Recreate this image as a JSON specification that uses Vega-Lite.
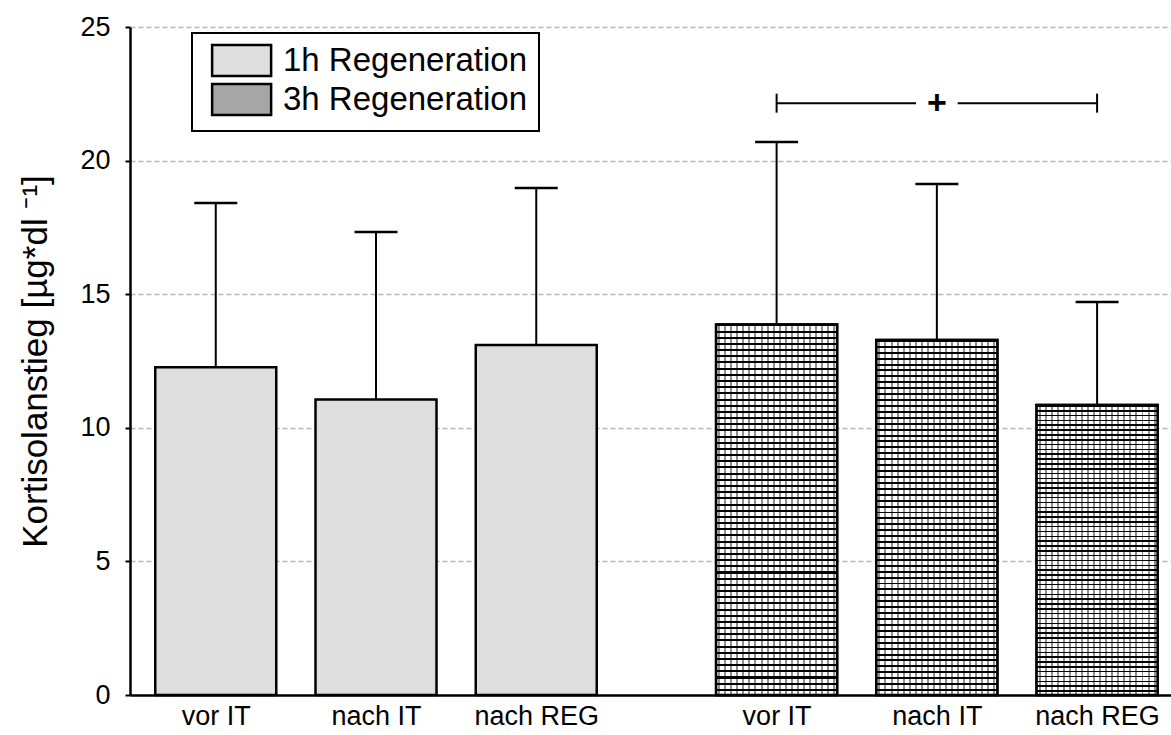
{
  "$schema": "https://vega.github.io/schema/vega-lite/v6.json",
  "width": 1041,
  "height": 668,
  "autosize": {"type": "none"},
  "padding": {"left": 130, "top": 27, "right": 0, "bottom": 40},
  "background": "white",
  "config": {
    "view": {"stroke": null},
    "font": "Liberation Sans",
    "axis": {"labelColor": "#000", "titleColor": "#000", "domainColor": "#000", "tickColor": "#000"},
    "axisX": {
      "labelFontSize": 27,
      "labelPadding": 8,
      "labelOverlap": false,
      "ticks": false,
      "tickSize": 0,
      "grid": false,
      "domainWidth": 2.5
    },
    "axisY": {
      "titleFontSize": 35,
      "titleFontWeight": "normal",
      "titlePadding": 26,
      "labelFontSize": 27,
      "labelPadding": 15,
      "tickSize": 5,
      "tickWidth": 2,
      "domainWidth": 2.5,
      "grid": true,
      "gridColor": "#b8b8b8",
      "gridDash": [5, 3],
      "gridWidth": 1.5
    },
    "legend": {
      "orient": "none",
      "legendX": 62,
      "legendY": 6,
      "padding": 11,
      "strokeColor": "#000",
      "strokeWidth": 2,
      "fillColor": "#fff",
      "symbolType": "M-0.5,-1.05H3.5V1.05H-0.5Z",
      "symbolSize": 870,
      "symbolStrokeColor": "#000",
      "symbolStrokeWidth": 2.5,
      "symbolOpacity": 1,
      "labelFontSize": 33,
      "labelColor": "#000",
      "labelOffset": 47,
      "labelLimit": 0,
      "rowPadding": -2
    }
  },
  "datasets": {
    "bars": [
      {"grp": "1h Regeneration", "cond": "vor IT", "pos": 1, "mean": 12.27, "upper": 18.41},
      {"grp": "1h Regeneration", "cond": "nach IT", "pos": 2, "mean": 11.06, "upper": 17.33},
      {"grp": "1h Regeneration", "cond": "nach REG", "pos": 3, "mean": 13.1, "upper": 18.97},
      {"grp": "3h Regeneration", "cond": "vor IT", "pos": 4.5, "mean": 13.87, "upper": 20.7},
      {"grp": "3h Regeneration", "cond": "nach IT", "pos": 5.5, "mean": 13.29, "upper": 19.12},
      {"grp": "3h Regeneration", "cond": "nach REG", "pos": 6.5, "mean": 10.85, "upper": 14.71}
    ],
    "bracketSeg": [
      {"x": 4.5, "x2": 5.37, "y": 22.15},
      {"x": 5.63, "x2": 6.5, "y": 22.15}
    ],
    "bracketEnd": [
      {"x": 4.5, "y": 22.15},
      {"x": 6.5, "y": 22.15}
    ],
    "sig": [
      {"x": 5.5, "y": 22.15, "label": "+"}
    ]
  },
  "layer": [
    {
      "data": {"name": "bars"},
      "mark": {"type": "bar", "size": 121, "stroke": "#000", "strokeWidth": 2.5},
      "encoding": {
        "x": {
          "field": "pos", "type": "quantitative", "title": null,
          "scale": {"domain": [0.496, 6.93], "nice": false, "zero": false},
          "axis": {
            "values": [1, 2, 3, 4.5, 5.5, 6.5],
            "labelExpr": "{'1':'vor IT','2':'nach IT','3':'nach REG','4.5':'vor IT','5.5':'nach IT','6.5':'nach REG'}[datum.value]"
          }
        },
        "y": {
          "field": "mean", "type": "quantitative", "title": "Kortisolanstieg [µg*dl ⁻¹]",
          "scale": {"domain": [0, 25], "nice": false},
          "axis": {"values": [0, 5, 10, 15, 20, 25]}
        },
        "fill": {
          "field": "grp", "type": "nominal",
          "scale": {"domain": ["1h Regeneration", "3h Regeneration"], "range": ["#dedede", "#a6a6a6"]},
          "legend": {"title": null}
        }
      }
    },
    {
      "data": {"name": "bars"},
      "transform": [{"filter": "datum.grp == '3h Regeneration'"}],
      "mark": {
        "type": "bar", "size": 121, "strokeWidth": 0,
        "fill": {
          "gradient": "linear", "x1": 0, "y1": 0, "x2": 1, "y2": 0,
          "stops": [
            {"offset": 0.017, "color": "#fff"}, {"offset": 0.017, "color": "#8f8f8f"}, {"offset": 0.0335, "color": "#8f8f8f"}, {"offset": 0.0335, "color": "#fff"},
            {"offset": 0.067, "color": "#fff"}, {"offset": 0.067, "color": "#8f8f8f"}, {"offset": 0.0835, "color": "#8f8f8f"}, {"offset": 0.0835, "color": "#fff"},
            {"offset": 0.117, "color": "#fff"}, {"offset": 0.117, "color": "#8f8f8f"}, {"offset": 0.1335, "color": "#8f8f8f"}, {"offset": 0.1335, "color": "#fff"},
            {"offset": 0.167, "color": "#fff"}, {"offset": 0.167, "color": "#8f8f8f"}, {"offset": 0.1835, "color": "#8f8f8f"}, {"offset": 0.1835, "color": "#fff"},
            {"offset": 0.217, "color": "#fff"}, {"offset": 0.217, "color": "#8f8f8f"}, {"offset": 0.2335, "color": "#8f8f8f"}, {"offset": 0.2335, "color": "#fff"},
            {"offset": 0.267, "color": "#fff"}, {"offset": 0.267, "color": "#8f8f8f"}, {"offset": 0.2835, "color": "#8f8f8f"}, {"offset": 0.2835, "color": "#fff"},
            {"offset": 0.317, "color": "#fff"}, {"offset": 0.317, "color": "#8f8f8f"}, {"offset": 0.3335, "color": "#8f8f8f"}, {"offset": 0.3335, "color": "#fff"},
            {"offset": 0.367, "color": "#fff"}, {"offset": 0.367, "color": "#8f8f8f"}, {"offset": 0.3835, "color": "#8f8f8f"}, {"offset": 0.3835, "color": "#fff"},
            {"offset": 0.417, "color": "#fff"}, {"offset": 0.417, "color": "#8f8f8f"}, {"offset": 0.4335, "color": "#8f8f8f"}, {"offset": 0.4335, "color": "#fff"},
            {"offset": 0.467, "color": "#fff"}, {"offset": 0.467, "color": "#8f8f8f"}, {"offset": 0.4835, "color": "#8f8f8f"}, {"offset": 0.4835, "color": "#fff"},
            {"offset": 0.517, "color": "#fff"}, {"offset": 0.517, "color": "#8f8f8f"}, {"offset": 0.5335, "color": "#8f8f8f"}, {"offset": 0.5335, "color": "#fff"},
            {"offset": 0.567, "color": "#fff"}, {"offset": 0.567, "color": "#8f8f8f"}, {"offset": 0.5835, "color": "#8f8f8f"}, {"offset": 0.5835, "color": "#fff"},
            {"offset": 0.617, "color": "#fff"}, {"offset": 0.617, "color": "#8f8f8f"}, {"offset": 0.6335, "color": "#8f8f8f"}, {"offset": 0.6335, "color": "#fff"},
            {"offset": 0.667, "color": "#fff"}, {"offset": 0.667, "color": "#8f8f8f"}, {"offset": 0.6835, "color": "#8f8f8f"}, {"offset": 0.6835, "color": "#fff"},
            {"offset": 0.717, "color": "#fff"}, {"offset": 0.717, "color": "#8f8f8f"}, {"offset": 0.7335, "color": "#8f8f8f"}, {"offset": 0.7335, "color": "#fff"},
            {"offset": 0.767, "color": "#fff"}, {"offset": 0.767, "color": "#8f8f8f"}, {"offset": 0.7835, "color": "#8f8f8f"}, {"offset": 0.7835, "color": "#fff"},
            {"offset": 0.817, "color": "#fff"}, {"offset": 0.817, "color": "#8f8f8f"}, {"offset": 0.8335, "color": "#8f8f8f"}, {"offset": 0.8335, "color": "#fff"},
            {"offset": 0.867, "color": "#fff"}, {"offset": 0.867, "color": "#8f8f8f"}, {"offset": 0.8835, "color": "#8f8f8f"}, {"offset": 0.8835, "color": "#fff"},
            {"offset": 0.917, "color": "#fff"}, {"offset": 0.917, "color": "#8f8f8f"}, {"offset": 0.9335, "color": "#8f8f8f"}, {"offset": 0.9335, "color": "#fff"},
            {"offset": 0.967, "color": "#fff"}, {"offset": 0.967, "color": "#8f8f8f"}, {"offset": 0.9835, "color": "#8f8f8f"}, {"offset": 0.9835, "color": "#fff"}
          ]
        }
      },
      "encoding": {
        "x": {"field": "pos", "type": "quantitative", "title": null},
        "y": {"field": "mean", "type": "quantitative", "title": "Kortisolanstieg [µg*dl ⁻¹]"}
      }
    },
    {
      "data": {"name": "bars"},
      "transform": [{"filter": "datum.grp == '3h Regeneration'"}],
      "mark": {
        "type": "bar", "size": 121, "stroke": "#000", "strokeWidth": 2.5,
        "fill": {
          "gradient": "linear", "x1": 0, "y1": 0, "x2": 0, "y2": 1,
          "stops": [
            {"offset": 0, "color": "#000"}, {"offset": 0.0055, "color": "#000"}, {"offset": 0.0055, "color": "rgba(0,0,0,0)"}, {"offset": 0.0167, "color": "rgba(0,0,0,0)"},
            {"offset": 0.0167, "color": "#000"}, {"offset": 0.0222, "color": "#000"}, {"offset": 0.0222, "color": "rgba(0,0,0,0)"}, {"offset": 0.0333, "color": "rgba(0,0,0,0)"},
            {"offset": 0.0333, "color": "#000"}, {"offset": 0.0388, "color": "#000"}, {"offset": 0.0388, "color": "rgba(0,0,0,0)"}, {"offset": 0.05, "color": "rgba(0,0,0,0)"},
            {"offset": 0.05, "color": "#000"}, {"offset": 0.0555, "color": "#000"}, {"offset": 0.0555, "color": "rgba(0,0,0,0)"}, {"offset": 0.0667, "color": "rgba(0,0,0,0)"},
            {"offset": 0.0667, "color": "#000"}, {"offset": 0.0722, "color": "#000"}, {"offset": 0.0722, "color": "rgba(0,0,0,0)"}, {"offset": 0.0833, "color": "rgba(0,0,0,0)"},
            {"offset": 0.0833, "color": "#000"}, {"offset": 0.0888, "color": "#000"}, {"offset": 0.0888, "color": "rgba(0,0,0,0)"}, {"offset": 0.1, "color": "rgba(0,0,0,0)"},
            {"offset": 0.1, "color": "#000"}, {"offset": 0.1055, "color": "#000"}, {"offset": 0.1055, "color": "rgba(0,0,0,0)"}, {"offset": 0.1167, "color": "rgba(0,0,0,0)"},
            {"offset": 0.1167, "color": "#000"}, {"offset": 0.1222, "color": "#000"}, {"offset": 0.1222, "color": "rgba(0,0,0,0)"}, {"offset": 0.1333, "color": "rgba(0,0,0,0)"},
            {"offset": 0.1333, "color": "#000"}, {"offset": 0.1388, "color": "#000"}, {"offset": 0.1388, "color": "rgba(0,0,0,0)"}, {"offset": 0.15, "color": "rgba(0,0,0,0)"},
            {"offset": 0.15, "color": "#000"}, {"offset": 0.1555, "color": "#000"}, {"offset": 0.1555, "color": "rgba(0,0,0,0)"}, {"offset": 0.1667, "color": "rgba(0,0,0,0)"},
            {"offset": 0.1667, "color": "#000"}, {"offset": 0.1722, "color": "#000"}, {"offset": 0.1722, "color": "rgba(0,0,0,0)"}, {"offset": 0.1833, "color": "rgba(0,0,0,0)"},
            {"offset": 0.1833, "color": "#000"}, {"offset": 0.1888, "color": "#000"}, {"offset": 0.1888, "color": "rgba(0,0,0,0)"}, {"offset": 0.2, "color": "rgba(0,0,0,0)"},
            {"offset": 0.2, "color": "#000"}, {"offset": 0.2055, "color": "#000"}, {"offset": 0.2055, "color": "rgba(0,0,0,0)"}, {"offset": 0.2167, "color": "rgba(0,0,0,0)"},
            {"offset": 0.2167, "color": "#000"}, {"offset": 0.2222, "color": "#000"}, {"offset": 0.2222, "color": "rgba(0,0,0,0)"}, {"offset": 0.2333, "color": "rgba(0,0,0,0)"},
            {"offset": 0.2333, "color": "#000"}, {"offset": 0.2388, "color": "#000"}, {"offset": 0.2388, "color": "rgba(0,0,0,0)"}, {"offset": 0.25, "color": "rgba(0,0,0,0)"},
            {"offset": 0.25, "color": "#000"}, {"offset": 0.2555, "color": "#000"}, {"offset": 0.2555, "color": "rgba(0,0,0,0)"}, {"offset": 0.2667, "color": "rgba(0,0,0,0)"},
            {"offset": 0.2667, "color": "#000"}, {"offset": 0.2722, "color": "#000"}, {"offset": 0.2722, "color": "rgba(0,0,0,0)"}, {"offset": 0.2833, "color": "rgba(0,0,0,0)"},
            {"offset": 0.2833, "color": "#000"}, {"offset": 0.2888, "color": "#000"}, {"offset": 0.2888, "color": "rgba(0,0,0,0)"}, {"offset": 0.3, "color": "rgba(0,0,0,0)"},
            {"offset": 0.3, "color": "#000"}, {"offset": 0.3055, "color": "#000"}, {"offset": 0.3055, "color": "rgba(0,0,0,0)"}, {"offset": 0.3167, "color": "rgba(0,0,0,0)"},
            {"offset": 0.3167, "color": "#000"}, {"offset": 0.3222, "color": "#000"}, {"offset": 0.3222, "color": "rgba(0,0,0,0)"}, {"offset": 0.3333, "color": "rgba(0,0,0,0)"},
            {"offset": 0.3333, "color": "#000"}, {"offset": 0.3388, "color": "#000"}, {"offset": 0.3388, "color": "rgba(0,0,0,0)"}, {"offset": 0.35, "color": "rgba(0,0,0,0)"},
            {"offset": 0.35, "color": "#000"}, {"offset": 0.3555, "color": "#000"}, {"offset": 0.3555, "color": "rgba(0,0,0,0)"}, {"offset": 0.3667, "color": "rgba(0,0,0,0)"},
            {"offset": 0.3667, "color": "#000"}, {"offset": 0.3722, "color": "#000"}, {"offset": 0.3722, "color": "rgba(0,0,0,0)"}, {"offset": 0.3833, "color": "rgba(0,0,0,0)"},
            {"offset": 0.3833, "color": "#000"}, {"offset": 0.3888, "color": "#000"}, {"offset": 0.3888, "color": "rgba(0,0,0,0)"}, {"offset": 0.4, "color": "rgba(0,0,0,0)"},
            {"offset": 0.4, "color": "#000"}, {"offset": 0.4055, "color": "#000"}, {"offset": 0.4055, "color": "rgba(0,0,0,0)"}, {"offset": 0.4167, "color": "rgba(0,0,0,0)"},
            {"offset": 0.4167, "color": "#000"}, {"offset": 0.4222, "color": "#000"}, {"offset": 0.4222, "color": "rgba(0,0,0,0)"}, {"offset": 0.4333, "color": "rgba(0,0,0,0)"},
            {"offset": 0.4333, "color": "#000"}, {"offset": 0.4388, "color": "#000"}, {"offset": 0.4388, "color": "rgba(0,0,0,0)"}, {"offset": 0.45, "color": "rgba(0,0,0,0)"},
            {"offset": 0.45, "color": "#000"}, {"offset": 0.4555, "color": "#000"}, {"offset": 0.4555, "color": "rgba(0,0,0,0)"}, {"offset": 0.4667, "color": "rgba(0,0,0,0)"},
            {"offset": 0.4667, "color": "#000"}, {"offset": 0.4722, "color": "#000"}, {"offset": 0.4722, "color": "rgba(0,0,0,0)"}, {"offset": 0.4833, "color": "rgba(0,0,0,0)"},
            {"offset": 0.4833, "color": "#000"}, {"offset": 0.4888, "color": "#000"}, {"offset": 0.4888, "color": "rgba(0,0,0,0)"}, {"offset": 0.5, "color": "rgba(0,0,0,0)"},
            {"offset": 0.5, "color": "#000"}, {"offset": 0.5055, "color": "#000"}, {"offset": 0.5055, "color": "rgba(0,0,0,0)"}, {"offset": 0.5167, "color": "rgba(0,0,0,0)"},
            {"offset": 0.5167, "color": "#000"}, {"offset": 0.5222, "color": "#000"}, {"offset": 0.5222, "color": "rgba(0,0,0,0)"}, {"offset": 0.5333, "color": "rgba(0,0,0,0)"},
            {"offset": 0.5333, "color": "#000"}, {"offset": 0.5388, "color": "#000"}, {"offset": 0.5388, "color": "rgba(0,0,0,0)"}, {"offset": 0.55, "color": "rgba(0,0,0,0)"},
            {"offset": 0.55, "color": "#000"}, {"offset": 0.5555, "color": "#000"}, {"offset": 0.5555, "color": "rgba(0,0,0,0)"}, {"offset": 0.5667, "color": "rgba(0,0,0,0)"},
            {"offset": 0.5667, "color": "#000"}, {"offset": 0.5722, "color": "#000"}, {"offset": 0.5722, "color": "rgba(0,0,0,0)"}, {"offset": 0.5833, "color": "rgba(0,0,0,0)"},
            {"offset": 0.5833, "color": "#000"}, {"offset": 0.5888, "color": "#000"}, {"offset": 0.5888, "color": "rgba(0,0,0,0)"}, {"offset": 0.6, "color": "rgba(0,0,0,0)"},
            {"offset": 0.6, "color": "#000"}, {"offset": 0.6055, "color": "#000"}, {"offset": 0.6055, "color": "rgba(0,0,0,0)"}, {"offset": 0.6167, "color": "rgba(0,0,0,0)"},
            {"offset": 0.6167, "color": "#000"}, {"offset": 0.6222, "color": "#000"}, {"offset": 0.6222, "color": "rgba(0,0,0,0)"}, {"offset": 0.6333, "color": "rgba(0,0,0,0)"},
            {"offset": 0.6333, "color": "#000"}, {"offset": 0.6388, "color": "#000"}, {"offset": 0.6388, "color": "rgba(0,0,0,0)"}, {"offset": 0.65, "color": "rgba(0,0,0,0)"},
            {"offset": 0.65, "color": "#000"}, {"offset": 0.6555, "color": "#000"}, {"offset": 0.6555, "color": "rgba(0,0,0,0)"}, {"offset": 0.6667, "color": "rgba(0,0,0,0)"},
            {"offset": 0.6667, "color": "#000"}, {"offset": 0.6722, "color": "#000"}, {"offset": 0.6722, "color": "rgba(0,0,0,0)"}, {"offset": 0.6833, "color": "rgba(0,0,0,0)"},
            {"offset": 0.6833, "color": "#000"}, {"offset": 0.6888, "color": "#000"}, {"offset": 0.6888, "color": "rgba(0,0,0,0)"}, {"offset": 0.7, "color": "rgba(0,0,0,0)"},
            {"offset": 0.7, "color": "#000"}, {"offset": 0.7055, "color": "#000"}, {"offset": 0.7055, "color": "rgba(0,0,0,0)"}, {"offset": 0.7167, "color": "rgba(0,0,0,0)"},
            {"offset": 0.7167, "color": "#000"}, {"offset": 0.7222, "color": "#000"}, {"offset": 0.7222, "color": "rgba(0,0,0,0)"}, {"offset": 0.7333, "color": "rgba(0,0,0,0)"},
            {"offset": 0.7333, "color": "#000"}, {"offset": 0.7388, "color": "#000"}, {"offset": 0.7388, "color": "rgba(0,0,0,0)"}, {"offset": 0.75, "color": "rgba(0,0,0,0)"},
            {"offset": 0.75, "color": "#000"}, {"offset": 0.7555, "color": "#000"}, {"offset": 0.7555, "color": "rgba(0,0,0,0)"}, {"offset": 0.7667, "color": "rgba(0,0,0,0)"},
            {"offset": 0.7667, "color": "#000"}, {"offset": 0.7722, "color": "#000"}, {"offset": 0.7722, "color": "rgba(0,0,0,0)"}, {"offset": 0.7833, "color": "rgba(0,0,0,0)"},
            {"offset": 0.7833, "color": "#000"}, {"offset": 0.7888, "color": "#000"}, {"offset": 0.7888, "color": "rgba(0,0,0,0)"}, {"offset": 0.8, "color": "rgba(0,0,0,0)"},
            {"offset": 0.8, "color": "#000"}, {"offset": 0.8055, "color": "#000"}, {"offset": 0.8055, "color": "rgba(0,0,0,0)"}, {"offset": 0.8167, "color": "rgba(0,0,0,0)"},
            {"offset": 0.8167, "color": "#000"}, {"offset": 0.8222, "color": "#000"}, {"offset": 0.8222, "color": "rgba(0,0,0,0)"}, {"offset": 0.8333, "color": "rgba(0,0,0,0)"},
            {"offset": 0.8333, "color": "#000"}, {"offset": 0.8388, "color": "#000"}, {"offset": 0.8388, "color": "rgba(0,0,0,0)"}, {"offset": 0.85, "color": "rgba(0,0,0,0)"},
            {"offset": 0.85, "color": "#000"}, {"offset": 0.8555, "color": "#000"}, {"offset": 0.8555, "color": "rgba(0,0,0,0)"}, {"offset": 0.8667, "color": "rgba(0,0,0,0)"},
            {"offset": 0.8667, "color": "#000"}, {"offset": 0.8722, "color": "#000"}, {"offset": 0.8722, "color": "rgba(0,0,0,0)"}, {"offset": 0.8833, "color": "rgba(0,0,0,0)"},
            {"offset": 0.8833, "color": "#000"}, {"offset": 0.8888, "color": "#000"}, {"offset": 0.8888, "color": "rgba(0,0,0,0)"}, {"offset": 0.9, "color": "rgba(0,0,0,0)"},
            {"offset": 0.9, "color": "#000"}, {"offset": 0.9055, "color": "#000"}, {"offset": 0.9055, "color": "rgba(0,0,0,0)"}, {"offset": 0.9167, "color": "rgba(0,0,0,0)"},
            {"offset": 0.9167, "color": "#000"}, {"offset": 0.9222, "color": "#000"}, {"offset": 0.9222, "color": "rgba(0,0,0,0)"}, {"offset": 0.9333, "color": "rgba(0,0,0,0)"},
            {"offset": 0.9333, "color": "#000"}, {"offset": 0.9388, "color": "#000"}, {"offset": 0.9388, "color": "rgba(0,0,0,0)"}, {"offset": 0.95, "color": "rgba(0,0,0,0)"},
            {"offset": 0.95, "color": "#000"}, {"offset": 0.9555, "color": "#000"}, {"offset": 0.9555, "color": "rgba(0,0,0,0)"}, {"offset": 0.9667, "color": "rgba(0,0,0,0)"},
            {"offset": 0.9667, "color": "#000"}, {"offset": 0.9722, "color": "#000"}, {"offset": 0.9722, "color": "rgba(0,0,0,0)"}, {"offset": 0.9833, "color": "rgba(0,0,0,0)"},
            {"offset": 0.9833, "color": "#000"}, {"offset": 0.9888, "color": "#000"}, {"offset": 0.9888, "color": "rgba(0,0,0,0)"}, {"offset": 1, "color": "rgba(0,0,0,0)"}
          ]
        }
      },
      "encoding": {
        "x": {"field": "pos", "type": "quantitative", "title": null},
        "y": {"field": "mean", "type": "quantitative", "title": "Kortisolanstieg [µg*dl ⁻¹]"}
      }
    },
    {
      "data": {"name": "bars"},
      "mark": {"type": "rule", "color": "#000", "strokeWidth": 2},
      "encoding": {
        "x": {"field": "pos", "type": "quantitative", "title": null},
        "y": {"field": "mean", "type": "quantitative", "title": "Kortisolanstieg [µg*dl ⁻¹]"},
        "y2": {"field": "upper"}
      }
    },
    {
      "data": {"name": "bars"},
      "mark": {"type": "tick", "orient": "horizontal", "size": 43, "thickness": 2.5, "color": "#000", "opacity": 1},
      "encoding": {
        "x": {"field": "pos", "type": "quantitative", "title": null},
        "y": {"field": "upper", "type": "quantitative", "title": "Kortisolanstieg [µg*dl ⁻¹]"}
      }
    },
    {
      "data": {"name": "bracketSeg"},
      "mark": {"type": "rule", "color": "#000", "strokeWidth": 2},
      "encoding": {
        "x": {"field": "x", "type": "quantitative", "title": null},
        "x2": {"field": "x2"},
        "y": {"field": "y", "type": "quantitative", "title": "Kortisolanstieg [µg*dl ⁻¹]"}
      }
    },
    {
      "data": {"name": "bracketEnd"},
      "mark": {"type": "tick", "orient": "vertical", "size": 19, "thickness": 2, "color": "#000", "opacity": 1},
      "encoding": {
        "x": {"field": "x", "type": "quantitative", "title": null},
        "y": {"field": "y", "type": "quantitative", "title": "Kortisolanstieg [µg*dl ⁻¹]"}
      }
    },
    {
      "data": {"name": "sig"},
      "mark": {"type": "text", "fontSize": 34, "fontWeight": "bold", "color": "#000", "align": "center", "baseline": "middle", "dy": 1},
      "encoding": {
        "x": {"field": "x", "type": "quantitative", "title": null},
        "y": {"field": "y", "type": "quantitative", "title": "Kortisolanstieg [µg*dl ⁻¹]"},
        "text": {"field": "label"}
      }
    }
  ]
}
